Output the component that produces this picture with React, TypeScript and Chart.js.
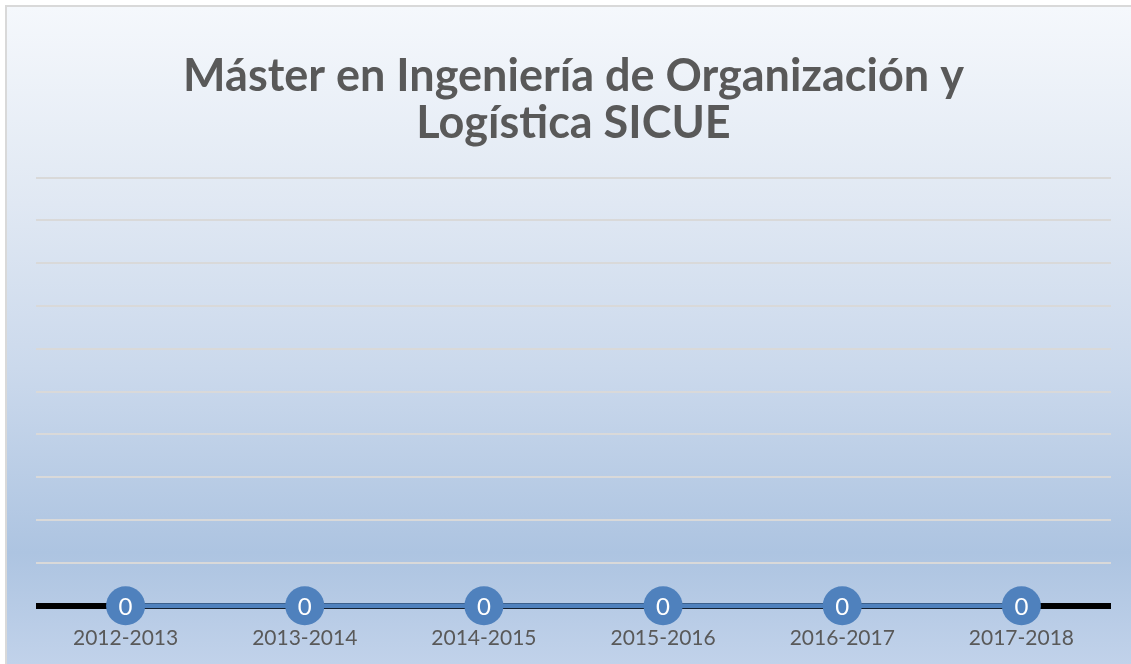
import React, { useEffect, useRef } from "react";
import { Chart, registerables } from "chart.js";

Chart.register(...registerables);

const categories = ["2012-2013", "2013-2014", "2014-2015", "2015-2016", "2016-2017", "2017-2018"];
const values = [0, 0, 0, 0, 0, 0];
const titleLines = ["Máster en Ingeniería de Organización y", "Logística SICUE"];
const yMin = 0;
const yMax = 10;
const yStep = 1;

const backgroundPlugin = {
  id: "bgPanel",
  beforeDraw(chart: any) {
    const { ctx, width, height } = chart;
    ctx.save();
    ctx.fillStyle = "#ffffff";
    ctx.fillRect(0, 0, width, height);
    const g = ctx.createLinearGradient(0, 7, 0, height);
    g.addColorStop(0, "rgb(245,248,252)");
    g.addColorStop(0.3, "rgb(224,232,243)");
    g.addColorStop(0.55, "rgb(203,217,236)");
    g.addColorStop(0.83, "rgb(173,196,225)");
    g.addColorStop(1, "rgb(193,210,234)");
    ctx.fillStyle = g;
    ctx.fillRect(7, 7, width - 7, height - 7);
    ctx.strokeStyle = "#d9d9d9";
    ctx.lineWidth = 2;
    ctx.beginPath();
    ctx.moveTo(6, height + 5);
    ctx.lineTo(6, 6);
    ctx.lineTo(width + 5, 6);
    ctx.stroke();
    ctx.restore();
  },
};

const labelPlugin = {
  id: "pointLabels",
  afterDatasetsDraw(chart: any) {
    const { ctx } = chart;
    const meta = chart.getDatasetMeta(0);
    ctx.save();
    ctx.fillStyle = "#ffffff";
    ctx.font = "24px Lato, 'Open Sans', sans-serif";
    ctx.textAlign = "center";
    ctx.textBaseline = "middle";
    meta.data.forEach((p: any, i: number) => {
      ctx.fillText(String(values[i]), p.x, p.y + 1);
    });
    ctx.restore();
  },
};

export default function App() {
  const ref = useRef<HTMLCanvasElement | null>(null);
  useEffect(() => {
    if (!ref.current) return;
    const chart = new Chart(ref.current, {
      type: "line",
      data: {
        labels: categories,
        datasets: [
          {
            data: values,
            borderColor: "#4F81BD",
            borderWidth: 5,
            pointRadius: 19.5,
            pointHoverRadius: 19.5,
            pointBackgroundColor: "#4F81BD",
            pointBorderWidth: 0,
            clip: false as any,
          },
        ],
      },
      options: {
        animation: false,
        responsive: false,
        layout: { padding: { left: 36, right: 20, top: 0, bottom: -6 } },
        plugins: {
          legend: { display: false },
          tooltip: { enabled: false },
          title: {
            display: true,
            text: titleLines,
            color: "#595959",
            font: { family: "Lato, 'Open Sans', sans-serif", size: 45, weight: "bold", lineHeight: 1.05 },
            padding: { top: 53, bottom: 30 },
          },
        },
        scales: {
          x: {
            offset: true,
            grid: { display: false, drawTicks: false },
            border: { display: false },
            ticks: {
              color: "#595959",
              font: { family: "Lato, 'Open Sans', sans-serif", size: 21 },
              padding: 19.5,
              maxRotation: 0,
            },
          },
          y: {
            min: yMin,
            max: yMax,
            grid: {
              drawTicks: false,
              color: (c: any) => (c.index === 0 ? "#000000" : "#d9d9d9"),
              lineWidth: (c: any) => (c.index === 0 ? 6 : 2),
            },
            border: { display: false },
            ticks: { display: false, stepSize: yStep },
          },
        },
      },
      plugins: [backgroundPlugin, labelPlugin],
    });
    return () => chart.destroy();
  }, []);
  return (
    <div style={{ position: "absolute", left: 0, top: 0, width: 1131, height: 664 }}>
      <canvas ref={ref} width={1131} height={664} style={{ display: "block" }} />
    </div>
  );
}
